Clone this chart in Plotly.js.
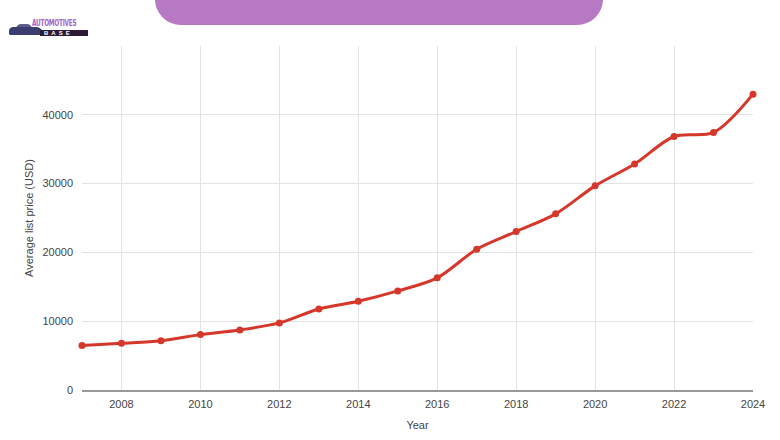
<!DOCTYPE html>
<html>
<head>
<meta charset="utf-8">
<script src="https://cdn.plot.ly/plotly-3.0.1.min.js"></script>
<style>
  html, body { margin: 0; padding: 0; background: #fff; }
  #wrap { position: relative; width: 780px; height: 440px; overflow: hidden; }
  #chart { position: absolute; left: 0; top: 0; width: 780px; height: 440px; }
  #banner { position: absolute; left: 155px; top: -30px; width: 448px; height: 55px;
            background: #b779c4; border-radius: 0 0 26px 26px; }
  #logo { position: absolute; left: 6px; top: 18px; width: 84px; height: 22px; }
  #car { position: absolute; left: 3px; top: 9px; width: 34px; height: 8px;
         background: #3b3d6e; border-radius: 9px 14px 3px 3px; }
  #roof { position: absolute; left: 10px; top: 6px; width: 16px; height: 5px;
         background: #5a5c8e; border-radius: 6px 6px 0 0; }
  #auto { position: absolute; left: 26px; top: 1px; font: bold 8px "Liberation Sans Narrow", "DejaVu Sans Condensed", sans-serif;
          color: #a462c7; letter-spacing: -0.3px; transform: scaleX(0.8); transform-origin: left; }
  #base { position: absolute; left: 34px; top: 12px; width: 48px; height: 6px; background: #2c1a36;
          font: bold 6px "Liberation Sans", sans-serif; color: #fff; letter-spacing: 3px; line-height: 6px; padding-left: 4px; box-sizing: border-box; }
</style>
</head>
<body>
<div id="wrap">
  <div id="chart"></div>
  <div id="banner"></div>
  <div id="logo"><div id="roof"></div><div id="car"></div><div id="auto">AUTOMOTIVES</div><div id="base">BASE</div></div>
</div>
<script>
const years = [2007, 2008, 2009, 2010, 2011, 2012, 2013, 2014, 2015, 2016, 2017, 2018, 2019, 2020, 2021, 2022, 2023, 2024];
const avgPrice = [6450, 6790, 7170, 8050, 8730, 9750, 11780, 12900, 14400, 16300, 20460, 23030, 25600, 29670, 32850, 36850, 37430, 43000];
const xTicks = [2008, 2010, 2012, 2014, 2016, 2018, 2020, 2022, 2024];
const yTicks = [0, 10000, 20000, 30000, 40000, 50000];
const yTickText = ['0', '10000', '20000', '30000', '40000', ''];

const trace = {
  x: years, y: avgPrice, type: 'scatter', mode: 'lines+markers',
  line: { color: '#d6372b', width: 3, shape: 'spline', smoothing: 0.9 },
  marker: { color: '#d6372b', size: 7 },
  cliponaxis: false,
  hoverinfo: 'x+y'
};

const layout = {
  width: 780, height: 440,
  margin: { l: 82, r: 27, t: 46, b: 50 },
  paper_bgcolor: '#ffffff', plot_bgcolor: '#ffffff',
  showlegend: false,
  font: { family: 'Liberation Sans, Arial, sans-serif', size: 11, color: '#444' },
  xaxis: {
    range: [2007, 2024], tickvals: xTicks, ticktext: xTicks.map(String),
    showgrid: true, gridcolor: '#e3e3e3', gridwidth: 1, zeroline: false,
    showline: true, linecolor: '#999', linewidth: 1.5,
    ticks: '', ticklabelstandoff: 3,
    tickfont: { size: 11, color: '#444' },
    title: { text: 'Year', font: { size: 11, color: '#444' }, standoff: 12 }
  },
  yaxis: {
    range: [0, 50000], tickvals: yTicks, ticktext: yTickText,
    showgrid: true, gridcolor: '#e3e3e3', gridwidth: 1, zeroline: false,
    showline: false, ticks: '', ticklabelstandoff: 8,
    tickfont: { size: 11, color: '#444' },
    title: { text: 'Average list price (USD)', font: { size: 11, color: '#444' }, standoff: 6 }
  }
};

Plotly.newPlot('chart', [trace], layout, { displayModeBar: false, staticPlot: true });
</script>
</body>
</html>
